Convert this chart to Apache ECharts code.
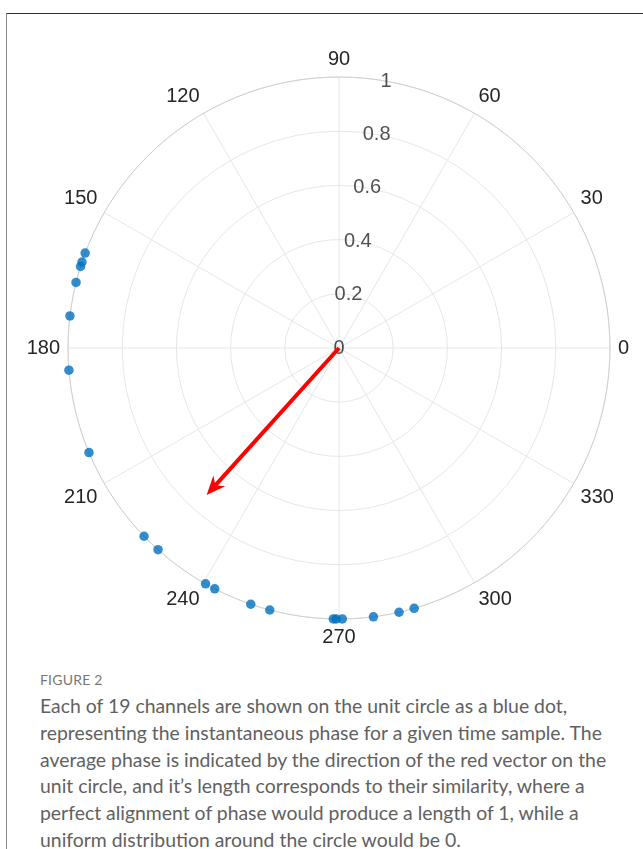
<!DOCTYPE html>
<html>
<head>
<meta charset="utf-8">
<script src="https://cdn.jsdelivr.net/npm/echarts@6/dist/echarts.min.js"></script>
<style>
  html, body { margin: 0; padding: 0; background: #fff; }
  #page { position: relative; width: 643px; height: 849px; overflow: hidden; }
  #frame { position: absolute; left: 6px; top: 13px; width: 700px; height: 900px;
           border-top: 1px solid #333; border-left: 1px solid #8a8a8a; }
  #chart { position: absolute; left: 0; top: 0; width: 643px; height: 660px; }
  #caption { position: absolute; left: 40px; top: 671px; width: 590px;
             font-family: "Lato", "Open Sans", sans-serif; color: #616161; }
  #caption .fig { font-size: 14px; line-height: 18px; color: #777; letter-spacing: 0.2px; margin-bottom: 4px; }
  #caption .line { font-size: 19.4px; line-height: 26.8px; white-space: nowrap; }
</style>
</head>
<body>
<div id="page">
  <div id="frame"></div>
  <div id="chart"></div>
  <div id="caption">
    <div class="fig">FIGURE 2</div>
    <div class="line">Each of 19 channels are shown on the unit circle as a blue dot,</div>
    <div class="line">representing the instantaneous phase for a given time sample. The</div>
    <div class="line">average phase is indicated by the direction of the red vector on the</div>
    <div class="line">unit circle, and it’s length corresponds to their similarity, where a</div>
    <div class="line">perfect alignment of phase would produce a length of 1, while a</div>
    <div class="line">uniform distribution around the circle would be 0.</div>
  </div>
</div>
<script>
// Instantaneous phase (degrees) of each of the 19 channels, all on the unit circle
const channelPhase = [159.5, 161.5, 162.5, 166.0, 173.2, 184.7, 202.7,
                      224.0, 228.1, 240.5, 242.7, 251.0, 255.2,
                      268.8, 269.4, 270.7, 277.3, 282.8, 286.1];
const channelRadius = 1;

// Mean resultant vector: direction (degrees) and length
const meanPhase = 228;
const meanLength = 0.73;

// Radial ticks, labelled along the 80 degree ray
const radialTicks = [0, 0.2, 0.4, 0.6, 0.8, 1];
const radialTickLabels = ['0', '0.2', '0.4', '0.6', '0.8', '1'];
const radialLabelAngle = 80;

// Angular ticks
const angleTicks = [0, 30, 60, 90, 120, 150, 180, 210, 240, 270, 300, 330];

const labelFont = '"Liberation Sans", Arial, sans-serif';
const textColor = '#262626';

const chart = echarts.init(document.getElementById('chart'), null, { renderer: 'canvas' });

const option = {
  animation: false,
  polar: { center: [339, 348], radius: 271 },
  angleAxis: {
    type: 'value',
    min: 0,
    max: 360,
    interval: 30,
    startAngle: 0,
    clockwise: false,
    axisLine: { show: true, lineStyle: { color: '#cfcfcf', width: 1 } },
    axisTick: { show: false },
    axisLabel: {
      show: true,
      margin: 8,
      fontFamily: labelFont,
      fontSize: 20,
      color: textColor,
      formatter: function (v) { return angleTicks.indexOf(v) >= 0 ? String(v) : ''; }
    },
    splitLine: { show: true, lineStyle: { color: '#e6e6e6', width: 1 } }
  },
  radiusAxis: {
    type: 'value',
    min: 0,
    max: 1,
    interval: 0.2,
    axisLine: { show: false },
    axisTick: { show: false },
    axisLabel: { show: false },
    splitLine: { show: true, lineStyle: { color: '#e6e6e6', width: 1 } }
  },
  series: [
    {
      // radial tick labels placed through the polar coordinate system
      type: 'scatter',
      coordinateSystem: 'polar',
      symbolSize: 0,
      silent: true,
      z: 5,
      data: radialTicks.map((r, i) => ({ value: [r, radialLabelAngle], name: radialTickLabels[i] })),
      label: {
        show: true,
        position: 'inside',
        formatter: p => p.name,
        fontFamily: labelFont,
        fontSize: 20,
        color: textColor
      }
    },
    {
      type: 'scatter',
      coordinateSystem: 'polar',
      symbol: 'circle',
      symbolSize: 9.5,
      itemStyle: { color: '#0070BF' },
      z: 4,
      data: channelPhase.map(a => [channelRadius, a])
    },
    {
      // mean phase vector with arrow head
      type: 'custom',
      coordinateSystem: 'polar',
      z: 6,
      data: [[meanLength, meanPhase]],
      renderItem: function (params, api) {
        const len = api.value(0);
        const ang = api.value(1);
        const p0 = api.coord([0, ang]);
        const p1 = api.coord([len, ang]);
        const dx = p1[0] - p0[0], dy = p1[1] - p0[1];
        const d = Math.sqrt(dx * dx + dy * dy);
        const ux = dx / d, uy = dy / d;
        const nx = -uy, ny = ux;
        const headLen = 19, headHalf = 8, notch = 13;
        const back = [p1[0] - ux * headLen, p1[1] - uy * headLen];
        const mid = [p1[0] - ux * notch, p1[1] - uy * notch];
        return {
          type: 'group',
          children: [
            {
              type: 'line',
              shape: { x1: p0[0], y1: p0[1], x2: mid[0], y2: mid[1] },
              style: { stroke: '#ff0000', lineWidth: 4 }
            },
            {
              type: 'polygon',
              shape: {
                points: [
                  p1,
                  [back[0] + nx * headHalf, back[1] + ny * headHalf],
                  mid,
                  [back[0] - nx * headHalf, back[1] - ny * headHalf]
                ]
              },
              style: { fill: '#ff0000' }
            }
          ]
        };
      }
    }
  ]
};

chart.setOption(option);
</script>
</body>
</html>
